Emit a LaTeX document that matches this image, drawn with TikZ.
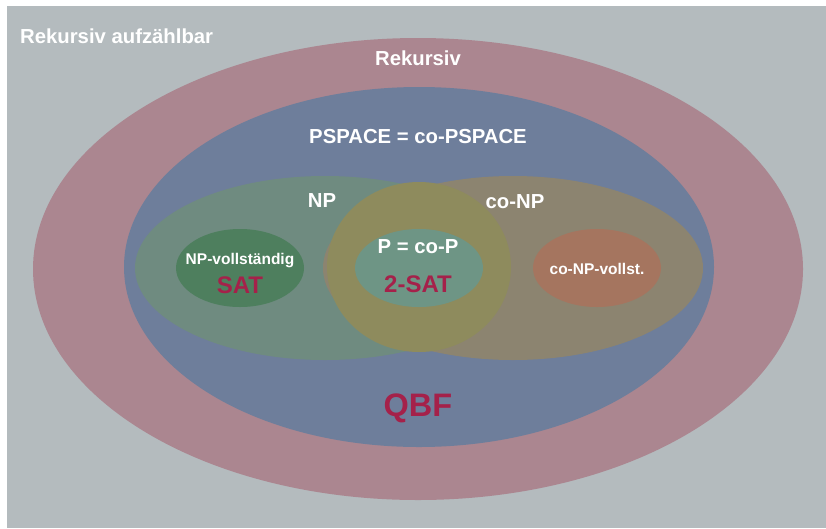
\documentclass[tikz,border=0pt]{standalone}
\usepackage{fontspec}
\setmainfont{Liberation Sans}
\definecolor{bggray}{HTML}{B4BBBE}
\definecolor{recred}{HTML}{AB8690}
\definecolor{psblue}{HTML}{6E7E9B}
\definecolor{npgreen}{HTML}{6F8B80}
\definecolor{conpbrown}{HTML}{8C8470}
\definecolor{pyellow}{HTML}{8E8B5D}
\definecolor{pteal}{HTML}{6E9585}
\definecolor{satgreen}{HTML}{4E7F5E}
\definecolor{conporange}{HTML}{A5755F}
\definecolor{txtred}{HTML}{A5214A}
\tikzset{
  lbl/.style={text=white, font=\bfseries\fontsize{20.3}{22}\selectfont, inner sep=0pt},
  smalllbl/.style={text=white, font=\bfseries\fontsize{15.5}{17}\selectfont, inner sep=0pt},
  redlbl/.style={text=txtred, font=\bfseries\fontsize{24}{27}\selectfont, inner sep=0pt},
}
\begin{document}
\begin{tikzpicture}[x=1pt,y=-1pt]
\useasboundingbox (0,0) rectangle (826,528);
\fill[bggray] (7,6) rectangle (826,528);
% sets
\fill[recred] (418,269) ellipse [x radius=385, y radius=231];
\fill[psblue] (419,267) ellipse [x radius=295, y radius=180];
\fill[npgreen] (325,268) ellipse [x radius=190, y radius=92];
\fill[conpbrown] (513,268) ellipse [x radius=190, y radius=92];
\fill[pyellow] (419,267) ellipse [x radius=92, y radius=85];
\fill[pteal] (419,268) ellipse [x radius=64, y radius=39];
\fill[satgreen] (240,268) ellipse [x radius=64, y radius=39];
\fill[conporange] (597,268) ellipse [x radius=64, y radius=39];
% labels
\node[lbl, anchor=west] (re) at (20,36) {Rekursiv aufzählbar};
\node[lbl] (rek) at (418,58) {Rekursiv};
\node[lbl] (ps) at (418,137) {PSPACE = co-PSPACE};
\node[lbl] (np) at (322,201) {NP};
\node[lbl] (conp) at (515,202) {co-NP};
\node[lbl] (p) at (418,247) {P = co-P};
\node[redlbl] (twosat) at (418,284) {2-SAT};
\node[smalllbl] (npv) at (240,261) {NP-vollständig};
\node[redlbl] (sat) at (240,285) {SAT};
\node[smalllbl] (conpv) at (597,269) {co-NP-vollst.};
\node[redlbl, font=\bfseries\fontsize{32.5}{36}\selectfont] (qbf) at (418,408) {QBF};
\end{tikzpicture}
\end{document}
